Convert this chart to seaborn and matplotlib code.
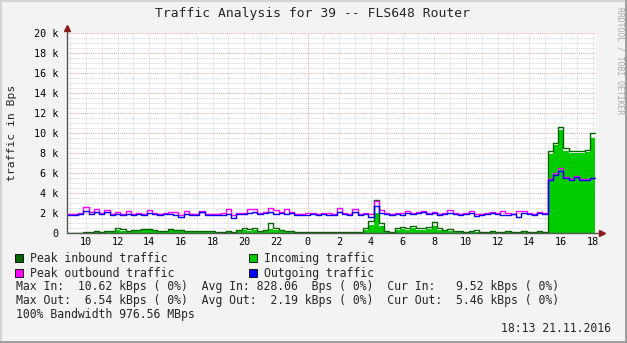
import numpy as np
import pandas as pd
import matplotlib
matplotlib.use("Agg")
import matplotlib.pyplot as plt
from matplotlib.patches import Rectangle
from matplotlib.lines import Line2D
import seaborn as sns

# ---- data (kBps), 20-minute steps from 08:50 (day 1) to 18:10 (day 2) ----
t_start = 8 + 50 / 60
step_h = 1 / 3

peak_in = [0, 0, 0, 0.05, 0.1, 0.1, 0.2, 0.1, 0.2, 0.2,
           0.5, 0.4, 0.2, 0.3, 0.3, 0.4, 0.4, 0.3, 0.2, 0.2,
           0.4, 0.3, 0.3, 0.2, 0.2, 0.2, 0.2, 0.2, 0.2, 0.1,
           0.1, 0.2, 0.1, 0.3, 0.5, 0.4, 0.5, 0.2, 0.3, 1.0,
           0.5, 0.3, 0.2, 0.2, 0.1, 0.1, 0.1, 0.1, 0.1, 0.1,
           0.1, 0.1, 0.1, 0.1, 0.1, 0.1, 0.1, 0.5, 1.2, 3.3,
           1.0, 0.2, 0.1, 0.5, 0.6, 0.5, 0.7, 0.5, 0.5, 0.6,
           1.1, 0.5, 0.3, 0.4, 0.2, 0.2, 0.1, 0.2, 0.3, 0.1,
           0.1, 0.2, 0.1, 0.1, 0.2, 0.1, 0.1, 0.2, 0.1, 0.1,
           0.2, 0.1, 8.2, 9.0, 10.6, 8.5, 8.2, 8.2, 8.2, 8.3,
           10.0]

avg_in = [0, 0, 0, 0, 0.05, 0.05, 0.1, 0.05, 0.1, 0.1,
          0.3, 0.2, 0.1, 0.2, 0.2, 0.25, 0.3, 0.2, 0.1, 0.1,
          0.3, 0.2, 0.2, 0.1, 0.15, 0.1, 0.15, 0.1, 0.1, 0.05,
          0.05, 0.1, 0.05, 0.2, 0.3, 0.2, 0.3, 0.1, 0.2, 0.4,
          0.3, 0.15, 0.1, 0.1, 0.05, 0.05, 0.05, 0.05, 0.05, 0.05,
          0.05, 0.05, 0.05, 0.05, 0.05, 0.05, 0.05, 0.3, 0.8, 2.0,
          0.7, 0.1, 0.05, 0.3, 0.4, 0.3, 0.5, 0.3, 0.3, 0.4,
          0.7, 0.3, 0.2, 0.2, 0.1, 0.1, 0.05, 0.1, 0.1, 0.05,
          0.05, 0.1, 0.05, 0.05, 0.1, 0.05, 0.05, 0.1, 0.05, 0.05,
          0.1, 0.05, 7.9, 8.8, 10.3, 8.2, 8.0, 8.0, 8.0, 8.1,
          9.52]

peak_out = [1.9, 1.9, 1.9, 2.0, 2.6, 2.1, 2.4, 2.0, 2.3, 1.9,
            2.1, 1.9, 2.2, 1.9, 2.0, 1.9, 2.3, 2.0, 1.9, 2.0,
            2.1, 2.1, 1.8, 2.2, 1.9, 1.9, 2.2, 1.9, 1.9, 1.9,
            2.0, 2.4, 1.8, 2.0, 2.0, 2.4, 2.4, 2.0, 2.1, 2.5,
            2.3, 2.1, 2.4, 2.1, 1.9, 1.9, 2.0, 2.0, 1.9, 2.0,
            2.0, 1.9, 2.5, 2.0, 1.9, 2.4, 1.9, 2.0, 1.9, 3.2,
            2.3, 2.0, 1.9, 2.0, 2.0, 2.2, 2.0, 2.1, 2.2, 2.0,
            2.1, 1.9, 2.0, 2.3, 2.0, 1.9, 2.0, 2.2, 1.9, 1.9,
            2.0, 2.1, 2.0, 2.2, 2.0, 1.9, 2.2, 2.2, 2.0, 1.9,
            2.1, 2.0, 5.4, 6.0, 6.5, 5.6, 5.4, 5.7, 5.4, 5.4,
            5.5]

avg_out = [1.8, 1.8, 1.8, 1.9, 2.2, 1.9, 2.1, 1.9, 2.1, 1.8,
           1.9, 1.8, 1.9, 1.8, 1.9, 1.8, 2.0, 1.9, 1.8, 1.9,
           1.9, 1.8, 1.6, 1.9, 1.8, 1.8, 2.1, 1.8, 1.8, 1.8,
           1.8, 1.9, 1.5, 1.9, 1.9, 2.0, 2.1, 1.9, 2.0, 2.1,
           1.9, 2.0, 1.9, 2.0, 1.8, 1.8, 1.8, 1.9, 1.8, 1.9,
           1.8, 1.8, 2.1, 1.9, 1.8, 2.1, 1.8, 1.9, 1.6, 2.7,
           2.0, 1.9, 1.8, 1.9, 1.8, 2.0, 1.9, 2.0, 2.1, 1.9,
           2.0, 1.8, 1.9, 2.0, 1.9, 1.8, 1.9, 2.0, 1.7, 1.8,
           1.9, 2.0, 1.9, 1.8, 1.8, 1.9, 1.6, 2.0, 1.9, 1.8,
           2.0, 1.9, 5.3, 5.8, 6.2, 5.5, 5.3, 5.6, 5.3, 5.3,
           5.46]

x_ticks = [10, 12, 14, 16, 18, 20, 22, 24, 26, 28, 30, 32, 34, 36, 38, 40, 42]
x_labels = ["10", "12", "14", "16", "18", "20", "22", "0", "2", "4", "6",
            "8", "10", "12", "14", "16", "18"]
y_ticks = [0, 2, 4, 6, 8, 10, 12, 14, 16, 18, 20]
y_labels = ["0", "2 k", "4 k", "6 k", "8 k", "10 k", "12 k", "14 k", "16 k", "18 k", "20 k"]

title = "Traffic Analysis for 39 -- FLS648 Router"
legend_items = [("Peak inbound traffic", "#006600"), ("Incoming traffic", "#00CC00"),
                ("Peak outbound traffic", "#FF00FF"), ("Outgoing traffic", "#0000FF")]
stat_lines = [
    "Max In:  10.62 kBps ( 0%)  Avg In: 828.06  Bps ( 0%)  Cur In:   9.52 kBps ( 0%)",
    "Max Out:  6.54 kBps ( 0%)  Avg Out:  2.19 kBps ( 0%)  Cur Out:  5.46 kBps ( 0%)",
    "100% Bandwidth 976.56 MBps",
]
stamp = "18:13 21.11.2016"

# ---- figure ----
sns.set_theme(style="white")
plt.rcParams["font.family"] = ["DejaVu Sans Mono", "DejaVu Sans"]

W, H = 627, 343
fig = plt.figure(figsize=(W / 100, H / 100), dpi=100, facecolor="#F3F3F3")

def fx(px):
    return px / W

def fy(py):
    return 1 - py / H

ax_l, ax_r, ax_t, ax_b = 67, 596, 33, 233
ax = fig.add_axes([fx(ax_l), fy(ax_b), fx(ax_r - ax_l), (ax_b - ax_t) / H])
ax.set_facecolor("white")

t = t_start + step_h * np.arange(len(avg_in))
df = pd.DataFrame({"t": t, "peak_in": peak_in, "avg_in": avg_in,
                   "peak_out": peak_out, "avg_out": avg_out})

# grid
minor_c = "#cfcfcf"
major_c = "#e6a8a8"
for v in np.arange(0.5, 20.01, 0.5):
    if abs(v - round(v / 2) * 2) < 1e-6:
        continue
    ax.axhline(v, color=minor_c, lw=0.6, ls=(0, (1, 1)), zorder=0)
for h in range(9, 43):
    if h == 24:
        continue
    ax.axvline(h, color=minor_c, lw=0.6, ls=(0, (1, 1)), zorder=0)
for v in y_ticks[1:]:
    ax.axhline(v, color=major_c, lw=0.7, ls=(0, (1, 1)), zorder=0.5)
ax.axvline(24, color=major_c, lw=0.7, ls=(0, (1, 1)), zorder=0.5)

ax.fill_between(df["t"], 0, df["avg_in"], step="pre", color="#00CC00", lw=0, zorder=2)
sns.lineplot(data=df, x="t", y="peak_in", ax=ax, color="#006600", lw=1.0,
             drawstyle="steps-pre", estimator=None, zorder=3)
sns.lineplot(data=df, x="t", y="peak_out", ax=ax, color="#FF00FF", lw=1.0,
             drawstyle="steps-pre", estimator=None, zorder=4)
sns.lineplot(data=df, x="t", y="avg_out", ax=ax, color="#0000FF", lw=1.0,
             drawstyle="steps-pre", estimator=None, zorder=5)

ax.set_xlim(8.8, 42.22)
ax.set_ylim(0, 20)
ax.set_xticks(x_ticks)
ax.set_xticklabels(x_labels)
ax.set_yticks(y_ticks)
ax.set_yticklabels(y_labels)
ax.set_xlabel("")
ax.set_ylabel("")
ax.tick_params(axis="both", length=0, labelsize=7.3, colors="black")
ax.tick_params(axis="y", pad=6)
ax.tick_params(axis="x", pad=3)
for s in ax.spines.values():
    s.set_visible(False)

# axis lines with arrows
axis_c = "#555555"
ax.plot([0, 0], [0, 1.02], transform=ax.transAxes, color=axis_c, lw=1.0,
        clip_on=False, zorder=6)
ax.plot([0, 1.01], [0, 0], transform=ax.transAxes, color=axis_c, lw=1.0,
        clip_on=False, zorder=6)
ax.plot([0], [1.025], marker="^", ms=4, color="#8B1A1A", transform=ax.transAxes,
        clip_on=False, zorder=7)
ax.plot([1.012], [0], marker=">", ms=4, color="#8B1A1A", transform=ax.transAxes,
        clip_on=False, zorder=7)

# texts
fig.text(fx(312.5), fy(14), title, ha="center", va="center", fontsize=9.4)
fig.text(fx(12), fy(133), "traffic in Bps", rotation=90, ha="center", va="center",
         fontsize=8.2)
fig.text(fx(620), fy(61), "RRDTOOL / TOBI OETIKER", rotation=270, ha="center",
         va="center", fontsize=5.8, color="#a8a8a8")

# legend
fs_leg = 8.3
rows_y = [262, 277]
cols_x = [15, 249]
for k, (lab, col) in enumerate(legend_items):
    r, c = divmod(k, 2)
    x0 = cols_x[c]
    yb = rows_y[r]
    fig.patches.append(Rectangle((fx(x0), fy(yb)), 8 / W, 8 / H,
                                 transform=fig.transFigure, facecolor=col,
                                 edgecolor="black", lw=0.6))
    fig.text(fx(x0 + 15), fy(yb), lab, ha="left", va="baseline", fontsize=fs_leg)

for yb, line in zip([290, 304, 318], stat_lines):
    fig.text(fx(16), fy(yb), line, ha="left", va="baseline", fontsize=fs_leg)
fig.text(fx(611), fy(332), stamp, ha="right", va="baseline", fontsize=fs_leg)

# frame border
fig.add_artist(Line2D([0, 1], [fy(0.5), fy(0.5)], color="#d4d4d4", lw=1.5))
fig.add_artist(Line2D([fx(0.5), fx(0.5)], [0, 1], color="#d4d4d4", lw=1.5))
fig.add_artist(Line2D([0, 1], [fy(H - 1), fy(H - 1)], color="#9a9a9a", lw=2))
fig.add_artist(Line2D([fx(W - 1), fx(W - 1)], [0, 1], color="#9a9a9a", lw=2))

fig.savefig("out.png", dpi=100, facecolor=fig.get_facecolor())
